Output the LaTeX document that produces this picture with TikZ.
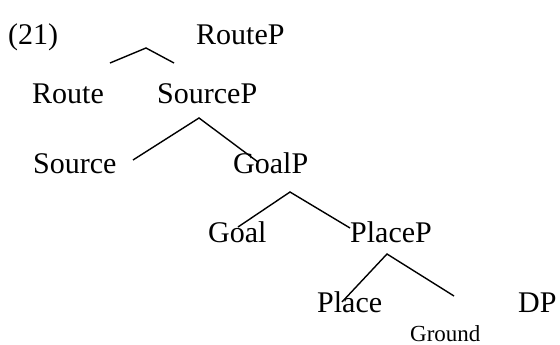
\documentclass[tikz,border=0pt]{standalone}
\usepackage{fontspec}
\setmainfont{Liberation Serif}

\begin{document}
\begin{tikzpicture}[x=1pt,y=-1pt,
    every node/.style={inner sep=0pt,anchor=base west,font=\fontsize{30}{36}\selectfont},
    small/.style={font=\fontsize{23}{28}\selectfont},
    branch/.style={line width=1.4pt}]

    \useasboundingbox (0,0) rectangle (560,345);

    %==================== Labels ====================
    \node (ex) at (8,45) {(21)};
    \node (routep) at (196,45) {RouteP};

    \node (route) at (32,103) {Route};
    \node (sourcep) at (157,103) {SourceP};

    \node (source) at (33,173) {Source};
    \node (goalp) at (233,173) {GoalP};

    \node (goal) at (208,242) {Goal};
    \node (placep) at (350,242) {PlaceP};

    \node (place) at (317,312) {Place};
    \node (dp) at (518,312) {DP};
    \node[small] (ground) at (410,341) {Ground};

    %==================== Branches ====================
    % left end, top, right end of each branch
    \coordinate (l1) at (110,63);  \coordinate (t1) at (146,48);  \coordinate (r1) at (174,63);
    \coordinate (l2) at (133,160); \coordinate (t2) at (199,118); \coordinate (r2) at (258,162);
    \coordinate (l3) at (238,227); \coordinate (t3) at (290,192); \coordinate (r3) at (350,228);
    \coordinate (l4) at (342,302); \coordinate (t4) at (387,254); \coordinate (r4) at (454,296);

    \foreach \i in {1,...,4} {
      \draw[branch] (l\i) -- (t\i) -- (r\i);
    }

\end{tikzpicture}
\end{document}
